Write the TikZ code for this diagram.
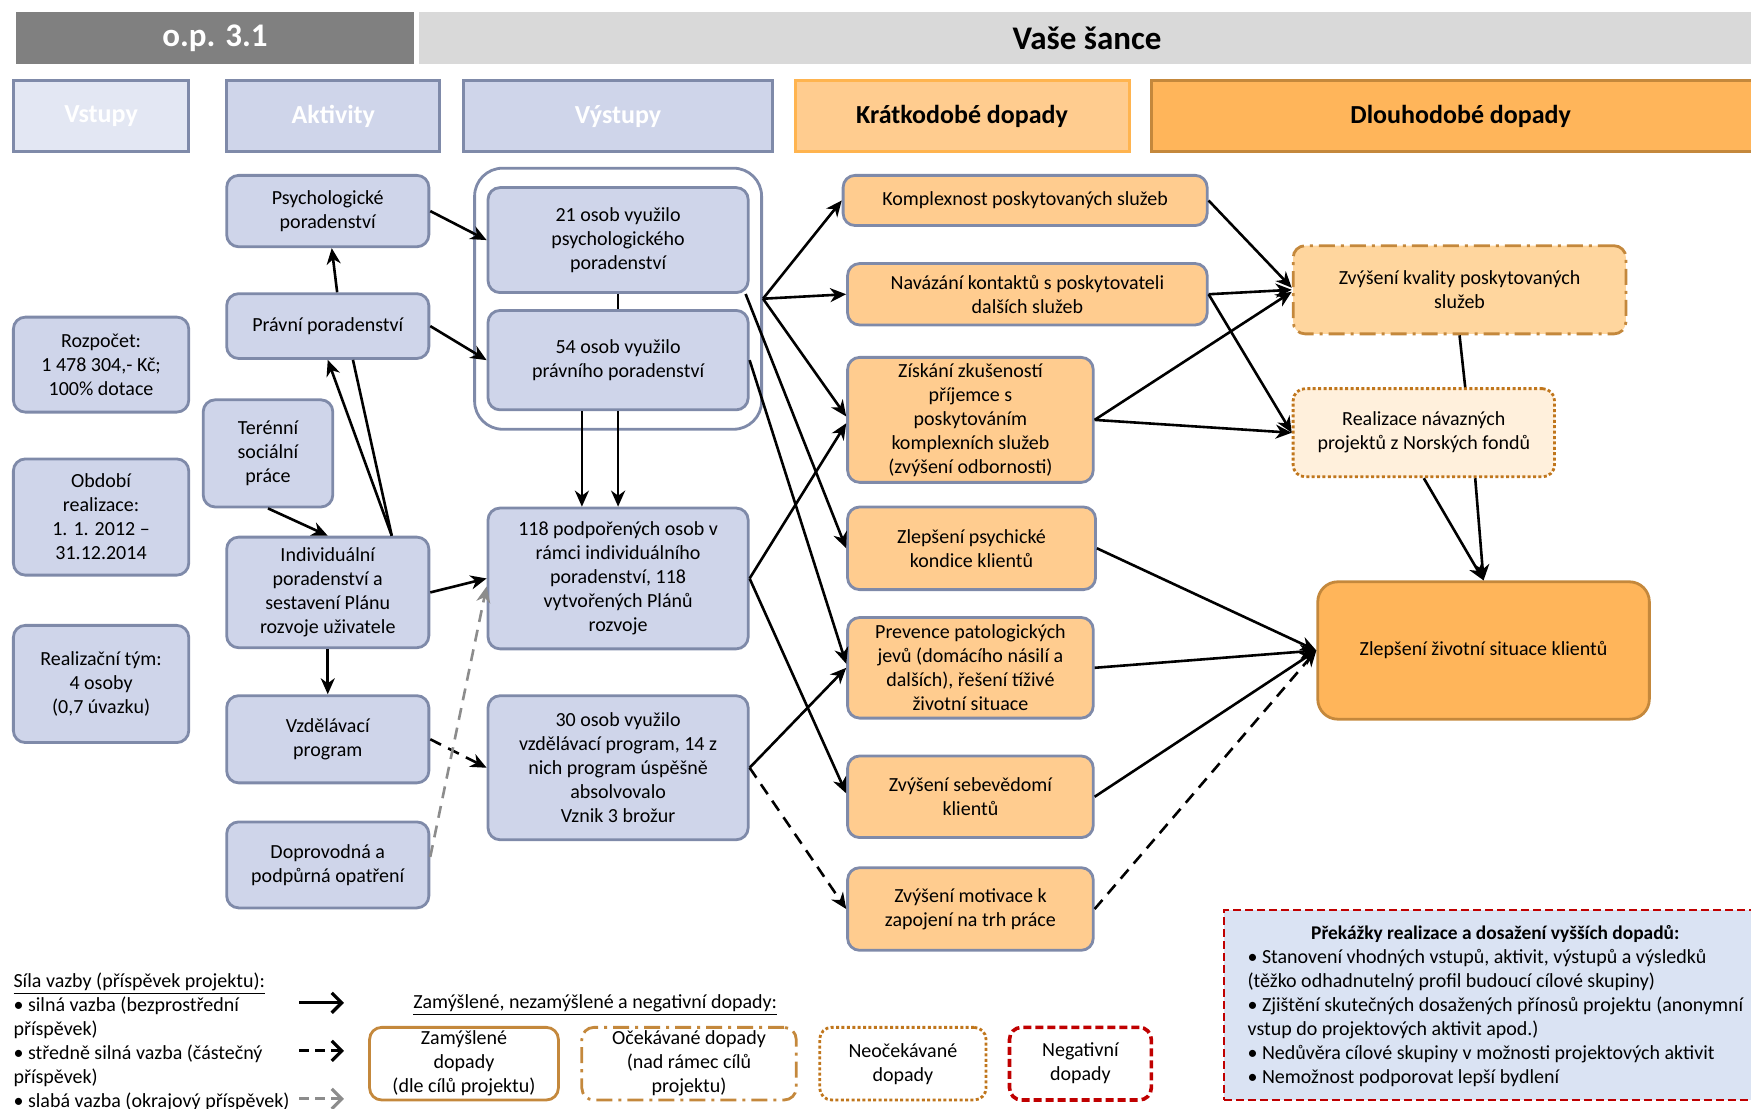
\documentclass[tikz,border=0pt]{standalone}
\usepackage{fontspec}
\setmainfont{Carlito}
\usepackage{xcolor}
\usetikzlibrary{arrows.meta, positioning, fit}

\definecolor{boxfill}{HTML}{CFD5EA}
\definecolor{boxline}{HTML}{7F8AA9}
\definecolor{inpfill}{HTML}{E3E7F3}
\definecolor{shortfill}{HTML}{FFCC8F}
\definecolor{shortline}{HTML}{FFB44F}
\definecolor{longfill}{HTML}{FFB55A}
\definecolor{longline}{HTML}{C4883C}
\definecolor{qualfill}{HTML}{FFD69E}
\definecolor{realfill}{HTML}{FFF0DC}
\definecolor{realline}{HTML}{C0761C}
\definecolor{obstfill}{HTML}{DAE3F3}
\definecolor{negline}{HTML}{C00000}
\definecolor{bardark}{HTML}{808080}
\definecolor{barlight}{HTML}{D9D9D9}
\definecolor{weakline}{HTML}{8C8C8C}

\begin{document}
\begin{tikzpicture}[
    x=0.558355pt, y=-0.558355pt,
    every node/.style={align=center, font=\fontsize{10}{12}\selectfont, inner sep=1pt},
    topbar/.style={minimum height=25.7pt, inner sep=0pt, font=\fontsize{16.5}{18}\selectfont\bfseries},
    headbox/.style={draw=boxline, fill=boxfill, line width=1.5pt, minimum height=35.7pt, text=white, font=\fontsize{13}{15}\selectfont\bfseries},
    actbox/.style={draw=boxline, fill=boxfill, line width=1.4pt, rounded corners=6pt},
    effectbox/.style={actbox, fill=shortfill},
    kindbox/.style={actbox, fill=white, draw=longline, minimum height=36.3pt, inner sep=0pt},
    dashdotline/.style={dash pattern=on 8pt off 3pt on 1.5pt off 3pt},
    squaredotline/.style={dash pattern=on 1.5pt off 1.2pt},
    negdash/.style={dash pattern=on 4pt off 2pt},
    plainline/.style={line width=1.3pt},
    strongarrow/.style={line width=1.3pt, -{Stealth[length=8pt, width=7pt, inset=2.5pt]}},
    midarrow/.style={strongarrow, dash pattern=on 6pt off 4pt},
    weakarrow/.style={midarrow, draw=weakline},
    legendarrow/.style={line width=1.6pt, -{Straight Barb[length=5pt, width=10pt]}},
    legendfont/.style={font=\fontsize{10}{12}\selectfont}
  ]
  \useasboundingbox (0,0) rectangle (1568,993);

  % title bars
  \node[topbar, fill=bardark, text=white, minimum width=199.3pt] (opbar) at (192.5,34) {o.p. 3.1};
  \node[topbar, fill=barlight, minimum width=668.4pt] (projbar) at (973.5,34) {Vaše šance};

  % column heads
  \node[headbox, fill=inpfill, minimum width=87.7pt] (hin) at (90.5,104) {Vstupy};
  \node[headbox, minimum width=106.6pt] (hact) at (298.5,104) {Aktivity};
  \node[headbox, minimum width=154.7pt] (hout) at (553.5,104) {Výstupy};
  \node[headbox, draw=shortline, fill=shortfill, text=black, minimum width=167pt] (hshort) at (861.5,104) {Krátkodobé dopady};
  \node[headbox, draw=longline, fill=longfill, text=black, minimum width=309.3pt] (hlong) at (1308,104) {Dlouhodobé dopady};

  % inputs
  \node[actbox, minimum width=87.7pt, minimum height=47.5pt] (budget) at (90.5,326.5) {Rozpočet:\\1 478 304,- Kč;\\100\% dotace};
  \node[actbox, minimum width=87.7pt, minimum height=58.1pt] (period) at (90.5,463) {Období\\realizace:\\1. 1. 2012 –\\31.12.2014};
  \node[actbox, minimum width=87.7pt, minimum height=58.6pt] (team) at (90.5,612.5) {Realizační tým:\\4 osoby\\(0,7 úvazku)};

  % activities
  \node[actbox, minimum width=101.1pt, minimum height=35.7pt] (psych) at (293.5,189) {Psychologické\\poradenství};
  \node[actbox, minimum width=101.1pt, minimum height=32.4pt] (legal) at (293.5,292) {Právní poradenství};
  \node[actbox, minimum width=64.8pt, minimum height=53.6pt] (field) at (240,406) {Terénní\\sociální\\práce};
  \node[actbox, minimum width=101.1pt, minimum height=55.3pt] (indiv) at (293.5,530.5) {Individuální\\poradenství a\\sestavení Plánu\\rozvoje uživatele};
  \node[actbox, minimum width=101.1pt, minimum height=43.6pt] (edu) at (293.5,662) {Vzdělávací\\program};
  \node[actbox, minimum width=101.1pt, minimum height=43pt] (support) at (293.5,774.5) {Doprovodná a\\podpůrná opatření};

  % outputs
  \node[actbox, minimum width=130.1pt, minimum height=52.5pt] (out21) at (553.5,215) {21 osob využilo\\psychologického\\poradenství};
  \node[actbox, minimum width=130.1pt, minimum height=49.7pt] (out54) at (553.5,322.5) {54 osob využilo\\právního poradenství};
  \node[actbox, minimum width=130.1pt, minimum height=70.4pt] (out118) at (553.5,518) {118 podpořených osob v\\rámci individuálního\\poradenství, 118\\vytvořených Plánů\\rozvoje};
  \node[actbox, minimum width=130.1pt, minimum height=72pt] (out30) at (553.5,687.5) {30 osob využilo\\vzdělávací program, 14 z\\nich program úspěšně\\absolvovalo\\Vznik 3 brožur};
  \node[draw=boxline, line width=1.4pt, rounded corners=14pt, fit=(out21)(out54), inner xsep=6pt, inner ysep=9pt] (grp) {};

  % short-term impacts
  \node[effectbox, minimum width=182pt, minimum height=25.1pt] (complex) at (918,179.5) {Komplexnost poskytovaných služeb};
  \node[effectbox, minimum width=179.8pt, minimum height=30.7pt] (contact) at (920,263.5) {Navázání kontaktů s poskytovateli\\dalších služeb};
  \node[effectbox, minimum width=122.8pt, minimum height=62.5pt] (expert) at (869,376) {Získání zkušeností\\příjemce s\\poskytováním\\komplexních služeb\\(zvýšení odbornosti)};
  \node[effectbox, minimum width=124pt, minimum height=41.3pt] (mental) at (870,491) {Zlepšení psychické\\kondice klientů};
  \node[effectbox, minimum width=122.8pt, minimum height=50.3pt] (prevent) at (869,598) {Prevence patologických\\jevů (domácího násilí a\\dalších), řešení tíživé\\životní situace};
  \node[effectbox, minimum width=122.8pt, minimum height=40.8pt] (selfest) at (869,713.5) {Zvýšení sebevědomí\\klientů};
  \node[effectbox, minimum width=122.8pt, minimum height=41.3pt] (motiv) at (869,814) {Zvýšení motivace k\\zapojení na trh práce};

  % long-term impacts
  \node[actbox, draw=longline, fill=qualfill, dashdotline, minimum width=166.4pt, minimum height=44.1pt] (quality) at (1307,259.5) {Zvýšení kvality poskytovaných\\služeb};
  \node[actbox, draw=realline, fill=realfill, squaredotline, minimum width=130.7pt, minimum height=44.1pt] (follow) at (1275,387.5) {Realizace návazných\\projektů z Norských fondů};
  \node[actbox, draw=longline, fill=longfill, rounded corners=10pt, minimum width=165.8pt, minimum height=68.7pt] (life) at (1328.5,582.5) {Zlepšení životní situace klientů};

  % obstacles
  \node[draw=negline, fill=obstfill, line width=1pt, negdash, minimum width=265.8pt, minimum height=94.9pt] (obst) at (1334,900) {};
  \node[font=\fontsize{9.7}{12}\selectfont\bfseries] (obsthead) at (1339,836) {Překážky realizace a dosažení vyšších dopadů:};
  \node[legendfont, anchor=north west, align=left] (obstbody) at (1115,848) {• Stanovení vhodných vstupů, aktivit, výstupů a výsledků\\(těžko odhadnutelný profil budoucí cílové skupiny)\\• Zjištění skutečných dosažených přínosů projektu (anonymní\\vstup do projektových aktivit apod.)\\• Nedůvěra cílové skupiny v možnosti projektových aktivit\\• Nemožnost podporovat lepší bydlení};

  % legend
  \node[legendfont, anchor=north west, align=left] (legend) at (10,869) {\underline{Síla vazby (příspěvek projektu):}\\• silná vazba (bezprostřední\\příspěvek)\\• středně silná vazba (částečný\\příspěvek)\\• slabá vazba (okrajový příspěvek)};
  \coordinate (s1) at (268,898);
  \coordinate (e1) at (308,898);
  \coordinate (s2) at (268,941);
  \coordinate (e2) at (308,941);
  \coordinate (s3) at (268,984);
  \coordinate (e3) at (308,984);
  \draw[legendarrow] (s1) -- (e1);
  \draw[legendarrow, dash pattern=on 5pt off 3pt] (s2) -- (e2);
  \draw[legendarrow, weakline, dash pattern=on 5pt off 3pt] (s3) -- (e3);
  \node[legendfont] (kindhead) at (533,900) {\underline{Zamýšlené, nezamýšlené a negativní dopady:}};
  \node[kindbox, minimum width=94.4pt] (kind1) at (415.5,952.5) {Zamýšlené\\dopady\\(dle cílů projektu)};
  \node[kindbox, dashdotline, minimum width=107.2pt] (kind2) at (617,952.5) {Očekávané dopady\\(nad rámec  cílů\\projektu)};
  \node[kindbox, draw=realline, squaredotline, minimum width=83.2pt] (kind3) at (808.5,952.5) {Neočekávané\\dopady};
  \node[kindbox, draw=negline, negdash, line width=1.8pt, minimum width=70.9pt] (kind4) at (967.5,952.5) {Negativní\\dopady};

  % activities -> outputs
  \draw[strongarrow] (psych.east) -- (out21.west);
  \draw[strongarrow] (legal.east) -- (out54.west);
  \draw[strongarrow] ([xshift=4.7pt]legal.north) -- ([xshift=2pt]psych.south);
  \draw[strongarrow] ([xshift=32pt]indiv.north) -- (legal.south);
  \draw[plainline] ([xshift=32pt]indiv.north) -- ([xshift=12.6pt]legal.south);
  \draw[strongarrow] (field.south) -- (indiv.north);
  \draw[strongarrow] (indiv.east) -- (out118.west);
  \draw[strongarrow] (indiv.south) -- (edu.north);
  \draw[midarrow] (edu.east) -- (out30.west);
  \draw[weakarrow] ([yshift=4pt]support.east) -- ([yshift=-4pt]out118.west);
  \draw[plainline] (out21.south) -- (out54.north);
  \draw[strongarrow] ([xshift=-18.1pt]out54.south) -- ([xshift=-18.1pt]out118.north);
  \draw[strongarrow] (out54.south) -- (out118.north);

  % outputs -> short-term
  \draw[strongarrow] (grp.east) -- (complex.west);
  \draw[strongarrow] (grp.east) -- (contact.west);
  \draw[strongarrow] (grp.east) -- ([yshift=1.7pt]expert.west);
  \draw[strongarrow] ([xshift=-2pt]out21.south east) -- (mental.west);
  \draw[strongarrow] (out54.east) -- ([yshift=2pt]prevent.west);
  \draw[strongarrow] (out118.east) -- ([yshift=-1.7pt]expert.west);
  \draw[strongarrow] (out118.east) -- ([yshift=1.7pt]selfest.west);
  \draw[strongarrow] (out30.east) -- (prevent.west);
  \draw[midarrow] (out30.east) -- (motiv.west);

  % short-term -> long-term
  \draw[strongarrow] (complex.east) -- ([yshift=1pt]quality.west);
  \draw[strongarrow] (contact.east) -- (quality.west);
  \draw[strongarrow] (contact.east) -- (follow.west);
  \draw[strongarrow] (expert.east) -- ([yshift=-1pt]quality.west);
  \draw[strongarrow] (expert.east) -- (follow.west);
  \draw[plainline] (quality.south) -- ([xshift=20.7pt]follow.north);
  \draw[strongarrow] (follow.south) -- (life.north);
  \draw[strongarrow] ([xshift=25.7pt]follow.south) -- (life.north);
  \draw[strongarrow] (mental.east) -- (life.west);
  \draw[strongarrow] (prevent.east) -- (life.west);
  \draw[strongarrow] (selfest.east) -- (life.west);
  \draw[midarrow] (motiv.east) -- (life.west);
\end{tikzpicture}
\end{document}
